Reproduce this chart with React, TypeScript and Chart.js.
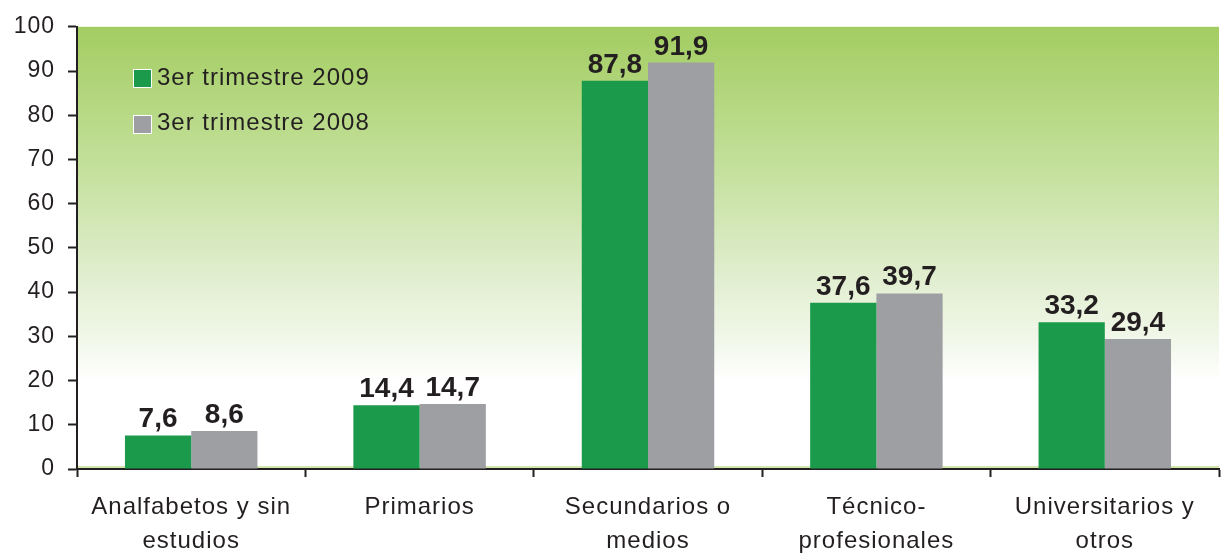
import React, { useEffect, useRef } from "react";
import { Chart, registerables } from "chart.js";

Chart.register(...registerables);

// ---------- data ----------
const categories: string[][] = [
  ["Analfabetos y sin", "estudios"],
  ["Primarios"],
  ["Secundarios o", "medios"],
  ["Técnico-", "profesionales"],
  ["Universitarios y", "otros"],
];
const series2009 = [7.6, 14.4, 87.8, 37.6, 33.2];
const series2008 = [8.6, 14.7, 91.9, 39.7, 29.4];
const seriesNames = ["3er trimestre 2009", "3er trimestre 2008"];
const seriesColors = ["#1a9a4a", "#9d9fa3"];
const yMin = 0;
const yMax = 100;
const yStep = 10;

const TEXT = "#231f20";
const FONT = "'Liberation Sans', Arial, sans-serif";

const fmt = (v: number) => v.toFixed(1).replace(".", ",");

const decorPlugin = {
  id: "decor",
  beforeDraw(chart: any) {
    const { ctx, chartArea: a } = chart;
    ctx.letterSpacing = "1px";
    ctx.save();
    const g = ctx.createLinearGradient(0, a.top, 0, a.bottom);
    g.addColorStop(0, "#a3cd62");
    g.addColorStop(0.3, "#c2df98");
    g.addColorStop(0.55, "#dfedcc");
    g.addColorStop(0.72, "#f3f8ec");
    g.addColorStop(0.8, "#ffffff");
    g.addColorStop(1, "#ffffff");
    ctx.fillStyle = g;
    ctx.fillRect(a.left, a.top, a.right - a.left, a.bottom - a.top);
    ctx.fillStyle = "#d3e6ad";
    ctx.fillRect(a.left, a.bottom - 3, a.right - a.left, 3);
    ctx.restore();
  },
  afterDatasetsDraw(chart: any) {
    const { ctx } = chart;
    ctx.save();
    ctx.letterSpacing = "0px";
    ctx.font = `bold 28px ${FONT}`;
    ctx.fillStyle = TEXT;
    ctx.textAlign = "center";
    ctx.textBaseline = "alphabetic";
    chart.data.datasets.forEach((ds: any, i: number) => {
      const meta = chart.getDatasetMeta(i);
      meta.data.forEach((bar: any, j: number) => {
        ctx.fillText(fmt(ds.data[j]), bar.x, bar.y - 8);
      });
    });
    ctx.restore();
  },
  afterDraw(chart: any) {
    const { ctx } = chart;
    ctx.save();
    ctx.letterSpacing = "1px";
    ctx.font = `24px ${FONT}`;
    ctx.textAlign = "left";
    ctx.textBaseline = "alphabetic";
    const boxes = [69, 115];
    const baselines = [85, 130];
    seriesNames.forEach((name, i) => {
      ctx.fillStyle = seriesColors[i];
      ctx.fillRect(133, boxes[i], 19, 19);
      ctx.strokeStyle = "#ffffff";
      ctx.lineWidth = 1;
      ctx.strokeRect(133.5, boxes[i] + 0.5, 18, 18);
      ctx.fillStyle = TEXT;
      ctx.fillText(name, 157, baselines[i]);
    });
    ctx.restore();
  },
};

export default function App() {
  const ref = useRef<HTMLCanvasElement>(null);
  useEffect(() => {
    if (!ref.current) return;
    const chart = new Chart(ref.current, {
      type: "bar",
      data: {
        labels: categories,
        datasets: [
          {
            label: seriesNames[0],
            data: series2009,
            backgroundColor: seriesColors[0],
            borderWidth: 0,
            categoryPercentage: 0.58,
            barPercentage: 1,
          },
          {
            label: seriesNames[1],
            data: series2008,
            backgroundColor: seriesColors[1],
            borderWidth: 0,
            categoryPercentage: 0.58,
            barPercentage: 1,
          },
        ],
      },
      options: {
        animation: false,
        responsive: true,
        maintainAspectRatio: false,
        layout: { padding: { top: 23, right: 5, left: 0, bottom: 0 } },
        plugins: { legend: { display: false }, tooltip: { enabled: false } },
        scales: {
          x: {
            grid: {
              display: true,
              drawOnChartArea: false,
              offset: true,
              tickLength: 8,
              tickWidth: 2,
              tickColor: TEXT,
            },
            border: { display: true, color: TEXT, width: 2 },
            ticks: {
              color: TEXT,
              padding: 13,
              maxRotation: 0,
              autoSkip: false,
              font: { family: FONT, size: 24, lineHeight: 1.42 },
            },
            afterFit: (s: any) => {
              s.height = 86;
            },
          },
          y: {
            min: yMin,
            max: yMax,
            grid: {
              display: true,
              drawOnChartArea: false,
              tickLength: 9,
              tickWidth: 2,
              tickColor: TEXT,
            },
            border: { display: true, color: TEXT, width: 2 },
            ticks: {
              stepSize: yStep,
              color: TEXT,
              padding: 13,
              font: { family: FONT, size: 23 },
            },
            afterFit: (s: any) => {
              s.width = 77;
            },
          },
        },
      },
      plugins: [decorPlugin],
    });
    return () => chart.destroy();
  }, []);
  return (
    <div style={{ position: "fixed", left: 0, top: 0, width: 1224, height: 555, background: "#fff" }}>
      <canvas ref={ref} />
    </div>
  );
}
